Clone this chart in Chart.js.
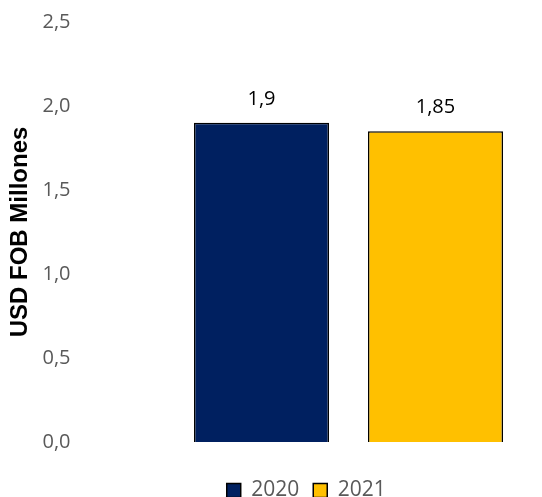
<!DOCTYPE html>
<html>
<head>
<meta charset="utf-8">
<script src="https://cdn.jsdelivr.net/npm/chart.js@4/dist/chart.umd.min.js"></script>
<style>
  html, body { margin: 0; padding: 0; background: #fff; overflow: hidden; }
  #wrap { width: 542px; height: 511px; }
</style>
</head>
<body>
<div id="wrap"><canvas id="chart"></canvas></div>
<script>
const categories = [''];
const seriesNames = ['2020', '2021'];
const values2020 = [1.9];
const values2021 = [1.85];
const valueLabels2020 = ['1,9'];
const valueLabels2021 = ['1,85'];
const yTicks = { min: 0, max: 2.5, step: 0.5 };

// draws the value above each bar, like the Excel data labels
const barLabels = {
  id: 'barLabels',
  afterDatasetsDraw(chart) {
    const ctx = chart.ctx;
    const texts = [valueLabels2020, valueLabels2021];
    ctx.save();
    ctx.font = "20px 'Open Sans'";
    ctx.fillStyle = '#000000';
    ctx.textAlign = 'center';
    ctx.textBaseline = 'middle';
    chart.data.datasets.forEach((ds, i) => {
      chart.getDatasetMeta(i).data.forEach((bar, j) => {
        ctx.fillText(texts[i][j], bar.x, bar.y - 24);
      });
    });
    ctx.restore();
  }
};

// Excel centres the legend a bit right of the canvas middle
const legendShift = {
  id: 'legendShift',
  afterLayout(chart) {
    if (chart.legend) chart.legend.left += 88;
  }
};

const ctx = document.getElementById('chart').getContext('2d');
new Chart(ctx, {
  type: 'bar',
  data: {
    labels: categories,
    datasets: [
      {
        label: seriesNames[0],
        data: values2020,
        backgroundColor: '#002060',
        borderColor: '#000000',
        borderWidth: 1.5,
        categoryPercentage: 1.0,
        barPercentage: 0.776
      },
      {
        label: seriesNames[1],
        data: values2021,
        backgroundColor: '#FFC000',
        borderColor: '#000000',
        borderWidth: 1.5,
        categoryPercentage: 1.0,
        barPercentage: 0.776
      }
    ]
  },
  options: {
    responsive: true,
    maintainAspectRatio: false,
    animation: false,
    layout: { padding: { left: 2, right: 19.5, top: 22, bottom: 0 } },
    plugins: {
      tooltip: { enabled: false },
      legend: {
        position: 'bottom',
        labels: {
          color: '#595959',
          boxWidth: 14,
          boxHeight: 14,
          padding: 14,
          font: { family: "'Open Sans'", size: 21 }
        }
      }
    },
    scales: {
      x: {
        grid: { display: false },
        border: { display: false },
        ticks: { display: false },
        afterFit: (s) => { s.height = 24; }
      },
      y: {
        min: yTicks.min,
        max: yTicks.max,
        grid: { display: false, drawTicks: false },
        border: { display: false },
        ticks: {
          stepSize: yTicks.step,
          color: '#595959',
          padding: 104,
          font: { family: "'Open Sans'", size: 20 },
          callback: (v) => v.toFixed(1).replace('.', ',')
        },
        title: {
          display: true,
          text: 'USD FOB Millones',
          color: '#000000',
          font: { family: "'Liberation Sans', Arial", size: 24, weight: 'bold' }
        },
        afterFit: (s) => {
          s.width = 172.5;
          // the big tick padding would otherwise also push the plot down
          s.paddingTop = 0;
          s.paddingBottom = 0;
        }
      }
    }
  },
  plugins: [barLabels, legendShift]
});
</script>
</body>
</html>
